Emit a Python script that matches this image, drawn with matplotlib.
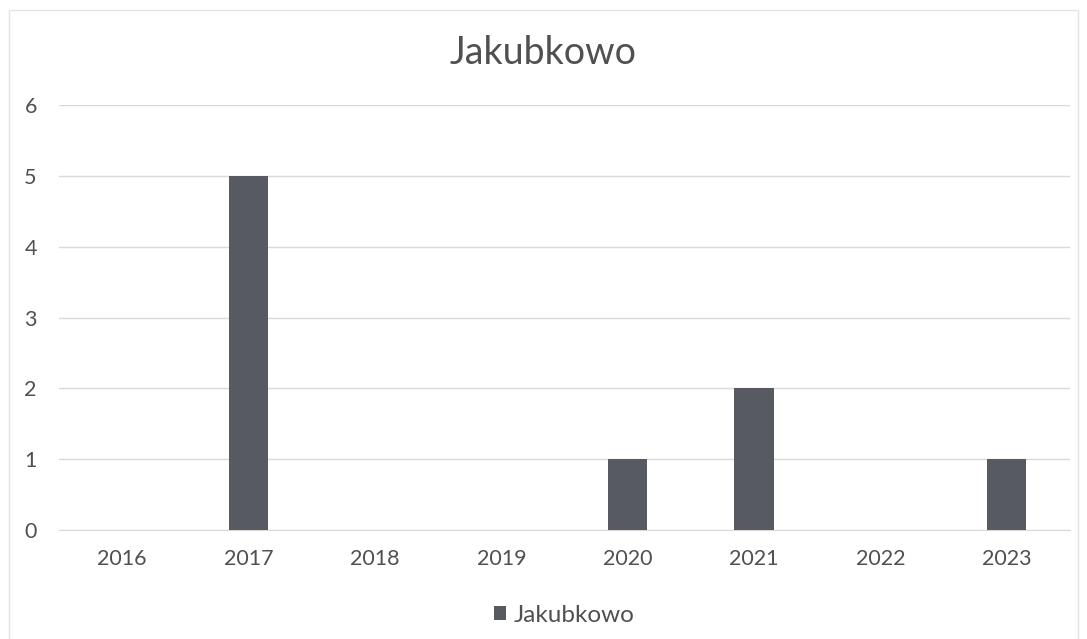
import matplotlib
matplotlib.use("Agg")
import matplotlib.pyplot as plt
from matplotlib.patches import Rectangle

# Yearly counts
years = ["2016", "2017", "2018", "2019", "2020", "2021", "2022", "2023"]
counts = [0, 5, 0, 0, 1, 2, 0, 1]
series_name = "Jakubkowo"

plt.rcParams['font.family'] = ['Lato', 'DejaVu Sans']
text_color = "#505050"
bar_color = "#575b61"
grid_color = "#d9d9d9"

fig = plt.figure(figsize=(10.87, 6.39), dpi=100)
ax = fig.add_axes([59 / 1087, 1 - 530 / 639, (1070 - 59) / 1087, (530 - 105) / 639])

x = range(len(years))
ax.bar(x, counts, width=0.31, color=bar_color, zorder=3, label=series_name)

ax.set_xlim(-0.5, len(years) - 0.5)
ax.set_ylim(0, 6)
ax.set_yticks(range(0, 7))
ax.set_xticks(list(x))
ax.set_xticklabels(years)
ax.tick_params(axis="both", length=0, labelsize=15.5, colors=text_color)
ax.tick_params(axis="y", pad=16)
ax.tick_params(axis="x", pad=14)
ax.grid(axis="y", color=grid_color, linewidth=1, zorder=0)
for side in ["top", "right", "left"]:
    ax.spines[side].set_visible(False)
ax.spines["bottom"].set_color(grid_color)

fig.text(0.5, 1 - 53 / 639, "Jakubkowo", ha="center", va="center",
         fontsize=27, color=text_color)

ax.legend(loc="upper center", bbox_to_anchor=(0.5, -0.125), frameon=False,
          fontsize=17.5, labelcolor=text_color, handlelength=0.5,
          handleheight=0.5, handletextpad=0.3)

# light frame around the chart, running off the bottom edge
fig.patches.append(Rectangle((9 / 1087, -0.05), 1 - 18 / 1087, 1 - 10 / 639 + 0.05,
                             transform=fig.transFigure, fill=False,
                             edgecolor="#e3e3e3", linewidth=1))

fig.savefig("out.png", dpi=100, facecolor="white")
